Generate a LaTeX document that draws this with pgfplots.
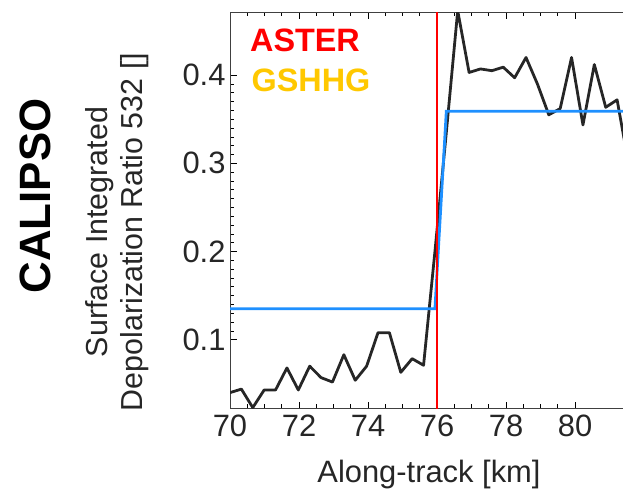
\documentclass[border=0pt]{standalone}
\usepackage{pgfplots}
\pgfplotsset{compat=1.18}
\usepackage{fontspec}
\setmainfont{Liberation Sans}
\definecolor{asterred}{RGB}{255,0,0}
\definecolor{gshhg}{RGB}{255,200,0}
\definecolor{lineblue}{RGB}{30,144,255}
\begin{document}
\begin{tikzpicture}
\begin{axis}[
  at={(230bp,85.5bp)}, anchor=south west,
  scale only axis, width=394bp, height=396bp,
  xmin=70, xmax=81.42, ymin=0.022, ymax=0.471,
  xtick={70,72,74,76,78,80}, ytick={0.1,0.2,0.3,0.4},
  minor x tick num=3, minor y tick num=9,
  ytick pos=left,
  major tick length=7bp, minor tick length=4bp,
  tick style={black, line width=0.6pt},
  axis line style={line width=0.9pt, black!75},
  /pgf/number format/assume math mode=true,
  /pgf/number format/fixed,
  /pgf/number format/precision=1,
  tick label style={font=\fontsize{31}{36}\selectfont, text=black!85},
  xticklabel style={yshift=-3bp},
  yticklabel style={xshift=-1bp},
  clip=true,
]
\addplot[black!85, line width=2.8pt, line join=round] coordinates {
(70.00,0.040) (70.33,0.044) (70.66,0.023) (70.99,0.043) (71.32,0.043)
(71.65,0.068) (71.98,0.043) (72.31,0.070) (72.64,0.057) (72.97,0.052)
(73.30,0.083) (73.63,0.054) (73.96,0.070) (74.29,0.108) (74.62,0.108)
(74.95,0.063) (75.28,0.0785) (75.61,0.071) (75.94,0.200) (76.27,0.335)
(76.60,0.473) (76.93,0.403) (77.26,0.407) (77.59,0.405) (77.92,0.409)
(78.25,0.397) (78.58,0.420) (78.91,0.390) (79.24,0.355) (79.57,0.362)
(79.90,0.420) (80.23,0.3435) (80.56,0.412) (80.89,0.3635) (81.22,0.372)
(81.55,0.300)
};
\addplot[lineblue, line width=2.8pt] coordinates {
(70.00,0.135) (75.94,0.135) (76.27,0.359) (81.60,0.359)
};
\addplot[asterred, line width=2.2pt] coordinates {(76.0,0.0) (76.0,0.5)};
\end{axis}
\node[anchor=center, font=\bfseries\fontsize{32.5}{36}\selectfont, text=asterred] at (305bp,454bp) {ASTER};
\node[anchor=center, font=\bfseries\fontsize{32.5}{36}\selectfont, text=gshhg] at (311bp,414bp) {GSHHG};
\node[rotate=90, anchor=center, font=\fontsize{30.5}{35}\selectfont, align=center, text=black!85] at (117bp,262bp) {Surface Integrated\\Depolarization Ratio 532 []};
\node[rotate=90, anchor=center, font=\bfseries\fontsize{44}{50}\selectfont] at (35bp,298bp) {CALIPSO};
\node[anchor=base, font=\fontsize{31}{36}\selectfont, text=black!85] at (429bp,12bp) {Along-track [km]};
\pgfresetboundingbox
\useasboundingbox (0,0) rectangle (623bp,494bp);
\end{tikzpicture}
\end{document}
